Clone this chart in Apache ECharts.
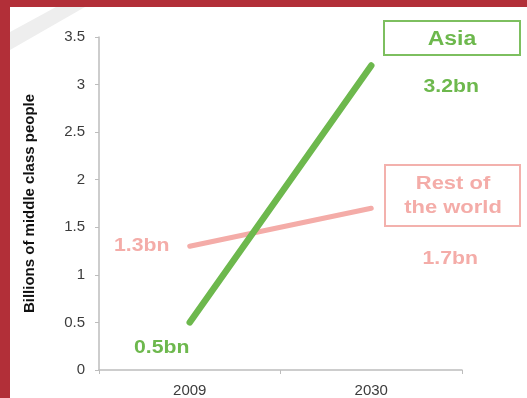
<!DOCTYPE html>
<html><head><meta charset="utf-8">
<script src="https://cdn.jsdelivr.net/npm/echarts@6/dist/echarts.min.js"></script>
<style>html,body{margin:0;padding:0;background:#fff}#c{width:527px;height:398px}</style>
</head><body><div id="c"></div>
<script>
var categories = ['2009', '2030'];
var asiaValues = [0.5, 3.2];
var restValues = [1.3, 1.7];
var yAxisName = 'Billions of middle class people';

var GREEN = '#6db84d', PINK = '#f4aca8';
var FONT = '"Liberation Sans", Arial, sans-serif';
var chart = echarts.init(document.getElementById('c'));

chart.setOption({
  animation: false,
  grid: { left: 99, right: 65, top: 37, bottom: 27 },
  xAxis: {
    type: 'category', data: categories, boundaryGap: true,
    axisLine: { lineStyle: { color: '#bdbdbd', width: 1.5 } },
    axisTick: { show: true, length: 4, lineStyle: { color: '#bdbdbd' } },
    axisLabel: { color: '#3c3c3c', fontSize: 15, fontFamily: FONT, margin: 13 }
  },
  yAxis: {
    type: 'value', min: 0, max: 3.5, interval: 0.5,
    name: yAxisName, nameLocation: 'middle', nameRotate: 90, nameGap: 62,
    nameTextStyle: { color: '#111', fontWeight: 'bold', fontSize: 15, fontFamily: FONT },
    axisLine: { show: true, lineStyle: { color: '#bdbdbd', width: 1.5 } },
    axisTick: { show: true, length: 4, lineStyle: { color: '#bdbdbd' } },
    axisLabel: { color: '#3c3c3c', fontSize: 15, fontFamily: FONT, margin: 14 },
    splitLine: { show: false }
  },
  series: [
    { type: 'line', name: 'Rest of the world', symbol: 'none', z: 2,
      lineStyle: { color: PINK, width: 5, cap: 'round' }, data: restValues },
    { type: 'line', name: 'Asia', symbol: 'none', z: 3,
      lineStyle: { color: GREEN, width: 6.5, cap: 'round' }, data: asiaValues }
  ]
});

// value labels, placed from the chart's own scales
var valueLabels = [];
function addLabels(values, offsets, color) {
  values.forEach(function (v, i) {
    var p = chart.convertToPixel({ gridIndex: 0 }, [categories[i], v]);
    valueLabels.push({ type: 'text', x: p[0] + offsets[i][0], y: p[1] + offsets[i][1], scaleX: 1.18,
      style: { text: v + 'bn', fill: color, font: 'bold 18px ' + FONT, textAlign: 'center', textVerticalAlign: 'middle' } });
  });
}
addLabels(asiaValues, [[-28, 26], [80, 21]], GREEN);
addLabels(restValues, [[-48, 0], [79, 51]], PINK);

chart.setOption({
  graphic: [
    { type: 'polygon', shape: { points: [[10, 32], [10, 50], [85, 7], [56, 7]] }, style: { fill: '#eeeeee' }, z: -1 },
    { type: 'rect', shape: { x: 0, y: 0, width: 527, height: 7 }, style: { fill: '#b22f38' } },
    { type: 'rect', shape: { x: 0, y: 0, width: 10, height: 398 }, style: { fill: '#b22f38' } },
    { type: 'rect', shape: { x: 384, y: 21, width: 136, height: 34 }, style: { fill: '#fff', stroke: '#7dbf5f', lineWidth: 2 } },
    { type: 'text', x: 452, y: 39, scaleX: 1.15, style: { text: 'Asia', fill: GREEN, font: 'bold 20px ' + FONT, textAlign: 'center', textVerticalAlign: 'middle' } },
    { type: 'rect', shape: { x: 385, y: 165, width: 135, height: 61 }, style: { fill: '#fff', stroke: '#f3b1ad', lineWidth: 2 } },
    { type: 'text', x: 453, y: 196, scaleX: 1.22, style: { text: 'Rest of\nthe world', fill: PINK, font: 'bold 18px ' + FONT, lineHeight: 24, textAlign: 'center', textVerticalAlign: 'middle' } }
  ].concat(valueLabels)
});
</script></body></html>
